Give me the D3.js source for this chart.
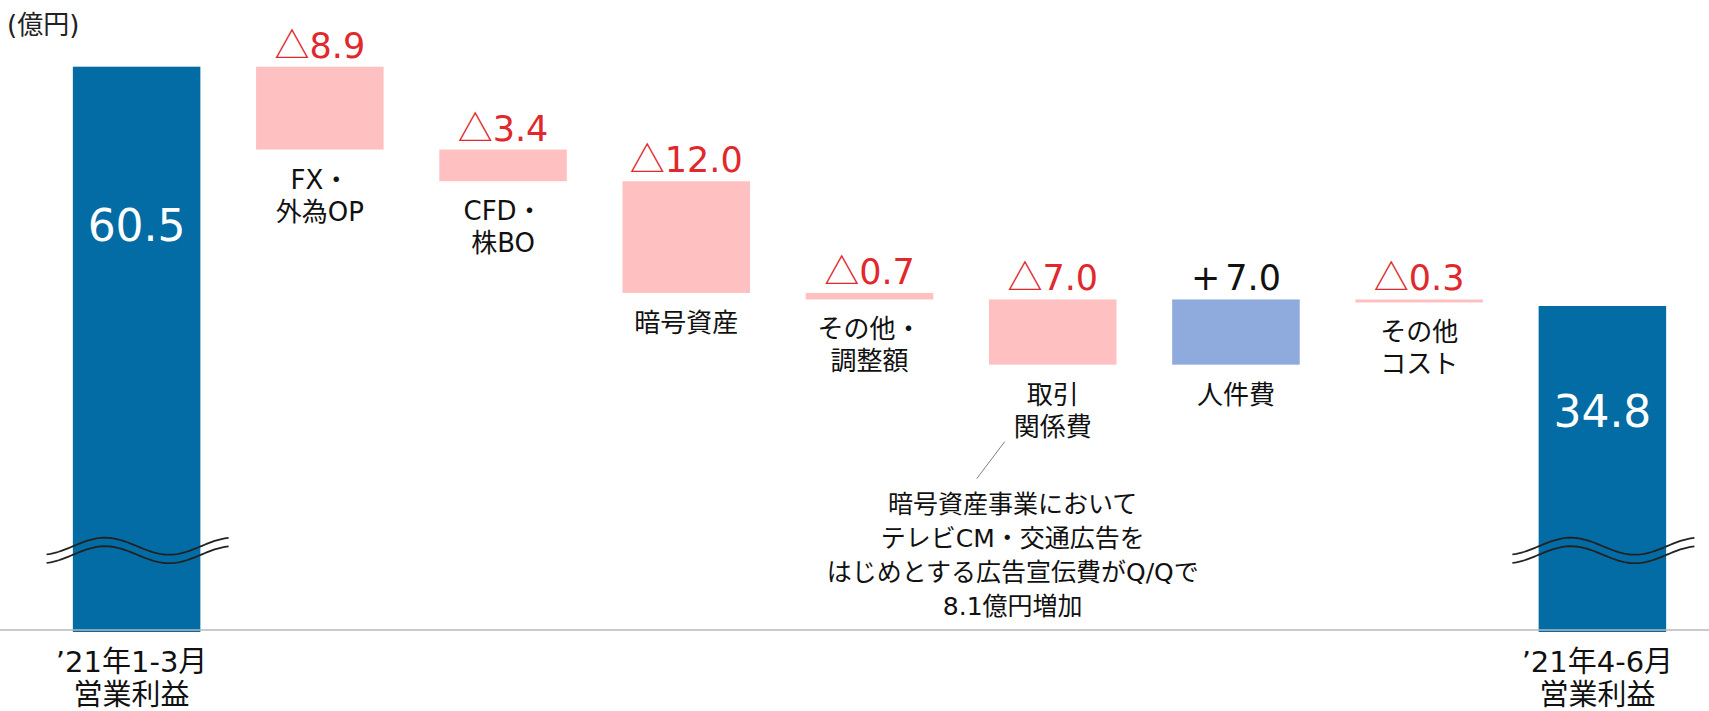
<!DOCTYPE html>
<html>
<head>
<meta charset="utf-8">
<script src="https://cdn.jsdelivr.net/npm/d3@7"></script>
<style>
  body { margin: 0; background: #fff; }
  svg { display: block; }
  text { font-family: "DejaVu Sans", "Noto Sans CJK JP", sans-serif; }
</style>
</head>
<body>
<svg id="chart" width="1709" height="711"></svg>
<script>
// ---- data ----
const unitLabel = "(億円)";
const categories = ["q1", "fx", "cfd", "crypto", "adj", "trade", "staff", "other", "q2"];
const categoryLines = [
  ["’21年1-3月", "営業利益"],
  ["FX・", "外為OP"],
  ["CFD・", "株BO"],
  ["暗号資産"],
  ["その他・", "調整額"],
  ["取引", "関係費"],
  ["人件費"],
  ["その他", "コスト"],
  ["’21年4-6月", "営業利益"]
];
const startValue = 60.5;
const endValue = 34.8;
const changes = [-8.9, -3.4, -12.0, -0.7, -7.0, 7.0, -0.3];
const noteLines = [
  "暗号資産事業において",
  "テレビCM・交通広告を",
  "はじめとする広告宣伝費がQ/Qで",
  "8.1億円増加"
];

const colors = { total: "#036ca5", down: "#ffc0c2", up: "#8faadc", downText: "#e0282d", upText: "#111" };

// ---- build waterfall steps ----
function buildSteps() {
  let steps = [{ key: categories[0], lines: categoryLines[0], from: 0, to: startValue, type: "total" }];
  let run = startValue;
  changes.forEach((c, i) => {
    steps.push({ key: categories[i + 1], lines: categoryLines[i + 1], from: run, to: run + c, delta: c, type: c < 0 ? "down" : "up" });
    run = run + c;
  });
  steps.push({ key: categories[8], lines: categoryLines[8], from: 0, to: endValue, type: "total" });
  return steps;
}
const steps = buildSteps();

const svg = d3.select("#chart");
const W = +svg.attr("width");

const x = d3.scaleBand()
  .domain(categories)
  .range([45, 1694])
  .paddingInner(0.304)
  .paddingOuter(0.152);

const y = d3.scaleLinear()
  .domain([0, startValue])
  .range([630, 66.7]);

const bw = x.bandwidth();
const cx = d => x(d.key) + bw / 2;
const barTop = d => y(Math.max(d.from, d.to));
const barBottom = d => y(Math.min(d.from, d.to));

// unit
svg.append("text")
  .attr("x", 7).attr("y", 34)
  .attr("font-size", 26).attr("fill", "#222")
  .text(unitLabel);

// bars
svg.append("g").selectAll("rect")
  .data(steps)
  .join("rect")
  .attr("x", d => x(d.key))
  .attr("width", bw)
  .attr("y", barTop)
  .attr("height", d => Math.max(3, barBottom(d) - barTop(d) + (d.type == "total" ? 2 : 0)))
  .attr("fill", d => colors[d.type]);

// axis line
svg.append("line")
  .attr("x1", 0).attr("x2", W)
  .attr("y1", y(0)).attr("y2", y(0))
  .attr("stroke", "#b8b8b8").attr("stroke-opacity", 0.75).attr("stroke-width", 2);

// break marks on the total bars (decorative)
const breakAt = 9;
const wave = d3.range(-90, 93, 2).map(dx => [dx, -Math.cos(2 * Math.PI * (dx + 31.5) / 128) * 8.5]);
const totals = steps.filter(d => d.type == "total");
[0, 8.5].forEach(off => {
  svg.append("g").selectAll("path")
    .data(totals)
    .join("path")
    .attr("d", d => d3.line().x(p => cx(d) + p[0]).y(p => y(breakAt) + off + p[1])(wave))
    .attr("fill", "none")
    .attr("stroke", "#222")
    .attr("stroke-width", 1.8);
});

// total value labels (white, inside bar)
svg.append("g").selectAll("text")
  .data(totals)
  .join("text")
  .attr("x", cx)
  .attr("y", d => barTop(d) + 34 + 0.222 * (barBottom(d) - barTop(d)))
  .attr("dominant-baseline", "central")
  .attr("text-anchor", "middle")
  .attr("font-size", 44)
  .attr("fill", "#fff")
  .text(d => d.to.toFixed(1));

// change value labels
const moves = steps.filter(d => d.type != "total");
const deltaText = svg.append("g").selectAll("text")
  .data(moves)
  .join("text")
  .attr("x", cx)
  .attr("y", d => barTop(d) - 9)
  .attr("text-anchor", "middle")
  .attr("font-size", 35)
  .attr("fill", d => d.delta < 0 ? colors.downText : colors.upText);
deltaText.append("tspan")
  .attr("font-family", d => d.delta < 0 ? "Noto Sans CJK JP" : null)
  .text(d => d.delta < 0 ? "△" : "+");
deltaText.append("tspan")
  .attr("dx", d => d.delta < 0 ? 0 : 5)
  .text(d => Math.abs(d.delta).toFixed(1));

// category labels under the moving bars
const catLabels = svg.append("g").selectAll("text")
  .data(moves)
  .join("text")
  .attr("text-anchor", "middle")
  .attr("font-size", 26)
  .attr("fill", "#111");
catLabels.selectAll("tspan")
  .data(d => d.lines.map((t, i) => ({ t, i, d })))
  .join("tspan")
  .attr("x", p => cx(p.d))
  .attr("y", p => barBottom(p.d) + 30 + p.i * 32)
  .attr("dominant-baseline", "central")
  .text(p => p.t);

// labels under the axis for the totals
const axisLabels = svg.append("g").selectAll("text")
  .data(totals)
  .join("text")
  .attr("text-anchor", "middle")
  .attr("font-size", 29)
  .attr("fill", "#111");
axisLabels.selectAll("tspan")
  .data(d => d.lines.map((t, i) => ({ t, i, d })))
  .join("tspan")
  .attr("x", p => cx(p.d) - 5)
  .attr("y", p => y(0) + 32 + p.i * 33)
  .attr("dominant-baseline", "central")
  .text(p => p.t);

// note on advertising cost, pointing at 取引関係費
const trade = steps.find(d => d.key == "trade");
const noteX = cx(trade) - 40;
svg.append("line")
  .attr("x1", cx(trade) - 48).attr("y1", barBottom(trade) + 77)
  .attr("x2", cx(trade) - 76).attr("y2", barBottom(trade) + 114)
  .attr("stroke", "#808080").attr("stroke-width", 1);
svg.append("g").selectAll("text")
  .data(noteLines)
  .join("text")
  .attr("x", noteX)
  .attr("y", (d, i) => 504 + i * 34)
  .attr("dominant-baseline", "central")
  .attr("text-anchor", "middle")
  .attr("font-size", 25)
  .attr("fill", "#111")
  .text(d => d);
</script>
</body>
</html>
